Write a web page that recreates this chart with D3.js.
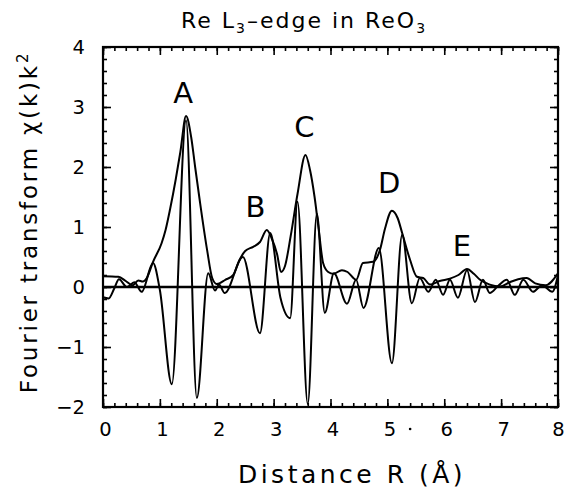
<!doctype html>
<html>
<head>
<style>
  body { margin: 0; background: #fff; }
  text { font-family: "DejaVu Sans", sans-serif; fill: #000; }
</style>
<script src="https://cdn.jsdelivr.net/npm/d3@7"></script>
</head>
<body>
<svg width="566" height="489"></svg>
<script>
// R values and imaginary part of the transform
var rImag = [0.00, 0.10, 0.20, 0.28, 0.42, 0.55, 0.68, 0.88, 1.00, 1.21, 1.46, 1.65, 1.85, 1.97, 2.04, 2.14,
             2.46, 2.76, 2.94, 3.12, 3.29, 3.42, 3.60, 3.76, 3.90, 4.06, 4.29, 4.45, 4.58, 4.85, 5.08, 5.26,
             5.43, 5.57, 5.72, 5.85, 5.98, 6.10, 6.24, 6.40, 6.54, 6.68, 6.80, 6.95, 7.10, 7.24, 7.39, 7.56,
             7.72, 7.90, 8.00];
var imag = [-0.17, -0.19, -0.02, 0.13, 0.00, 0.08, -0.08, 0.40, -0.05, -1.62, 2.78, -1.85, 0.23, -0.06, 0.04, -0.10,
            0.50, -0.77, 0.90, -0.18, -0.52, 1.42, -1.95, 1.22, -0.43, 0.23, -0.28, 0.12, -0.35, 0.65, -1.27, 0.87,
            -0.27, 0.15, -0.08, 0.12, -0.13, 0.12, -0.18, 0.28, -0.25, 0.12, -0.10, 0.02, 0.12, -0.13, 0.12, -0.08,
            0.03, -0.08, 0.20];

// R values and magnitude (envelope)
var rMag = [0.00, 0.27, 0.40, 0.52, 0.62, 0.70, 0.77, 0.88, 1.03, 1.10, 1.18, 1.28, 1.36, 1.46, 1.55, 1.62,
            1.70, 1.83, 1.92, 2.00, 2.15, 2.29, 2.40, 2.50, 2.64, 2.76, 2.88, 2.97, 3.06, 3.13, 3.20, 3.30,
            3.42, 3.56, 3.64, 3.72, 3.80, 3.87, 3.96, 4.05, 4.20, 4.30, 4.45, 4.57, 4.75, 4.87, 4.96, 5.08,
            5.18, 5.26, 5.40, 5.52, 5.63, 5.75, 5.92, 6.10, 6.25, 6.40, 6.52, 6.63, 6.80, 6.98, 7.15, 7.30,
            7.45, 7.60, 7.78, 8.00];
var mag = [0.18, 0.17, 0.10, 0.03, 0.11, 0.09, 0.15, 0.42, 0.73, 0.95, 1.30, 1.80, 2.25, 2.85, 2.50, 2.00,
           1.45, 0.62, 0.15, 0.05, 0.12, 0.20, 0.45, 0.60, 0.67, 0.75, 0.95, 0.80, 0.55, 0.25, 0.35, 0.85,
           1.55, 2.20, 1.95, 1.50, 0.90, 0.40, 0.25, 0.22, 0.28, 0.25, 0.12, 0.40, 0.42, 0.62, 0.98, 1.27,
           1.15, 0.90, 0.45, 0.17, 0.15, 0.04, 0.10, 0.14, 0.20, 0.30, 0.22, 0.12, 0.04, 0.01, 0.08, 0.13,
           0.15, 0.06, 0.03, 0.23];

var peakNames = ["A", "B", "C", "D", "E"];
var peakR = [1.41, 2.68, 3.54, 5.03, 6.31];
var peakV = [3.07, 1.17, 2.50, 1.57, 0.52];

var xTicks = [0, 1, 2, 3, 4, 5, 6, 7, 8];
var yTicks = [-2, -1, 0, 1, 2, 3, 4];

var svg = d3.select("svg");
var mLeft = 103, mRight = 558, mTop = 47, mBottom = 407;

var x = d3.scaleLinear().domain([0, 8]).range([mLeft, mRight]);
var y = d3.scaleLinear().domain([-2, 4]).range([mBottom, mTop]);

var minorX = d3.range(0, 8.001, 0.2).map(function(d) { return +d.toFixed(1); });
var minorY = d3.range(-2, 4.001, 0.2).map(function(d) { return +d.toFixed(1); });

function styleAxis(g) {
    g.select(".domain").remove();
    g.selectAll("line").attr("stroke", "#000").attr("stroke-width", 1.6);
}

// minor ticks, all four sides
svg.append("g").attr("transform", "translate(0," + mBottom + ")")
   .call(d3.axisBottom(x).tickValues(minorX).tickSize(-4).tickFormat("")).call(styleAxis);
svg.append("g").attr("transform", "translate(0," + mTop + ")")
   .call(d3.axisTop(x).tickValues(minorX).tickSize(-4).tickFormat("")).call(styleAxis);
svg.append("g").attr("transform", "translate(" + mLeft + ",0)")
   .call(d3.axisLeft(y).tickValues(minorY).tickSize(-4).tickFormat("")).call(styleAxis);
svg.append("g").attr("transform", "translate(" + mRight + ",0)")
   .call(d3.axisRight(y).tickValues(minorY).tickSize(-4).tickFormat("")).call(styleAxis);

// major ticks
svg.append("g").attr("transform", "translate(0," + mTop + ")")
   .call(d3.axisTop(x).tickValues(xTicks).tickSize(-8).tickFormat("")).call(styleAxis);
svg.append("g").attr("transform", "translate(" + mRight + ",0)")
   .call(d3.axisRight(y).tickValues(yTicks).tickSize(-8).tickFormat("")).call(styleAxis);

var xAxis = svg.append("g").attr("transform", "translate(0," + mBottom + ")")
   .call(d3.axisBottom(x).tickValues(xTicks).tickSize(-8).tickPadding(15).tickFormat(d3.format("d")))
   .call(styleAxis);
xAxis.selectAll("text").attr("font-size", 19.5).attr("dx", function(d) { return d === 8 ? 0 : 2; });

var yAxis = svg.append("g").attr("transform", "translate(" + mLeft + ",0)")
   .call(d3.axisLeft(y).tickValues(yTicks).tickSize(-8).tickPadding(18)
   .tickFormat(function(d) { return d < 0 ? "\u2212" + (-d) : d; }))
   .call(styleAxis);
yAxis.selectAll("text").attr("font-size", 19.5);

// frame
svg.append("rect")
   .attr("x", mLeft).attr("y", mTop)
   .attr("width", mRight - mLeft).attr("height", mBottom - mTop)
   .attr("fill", "none").attr("stroke", "#000").attr("stroke-width", 2.2);

// zero line
svg.append("line")
   .attr("x1", x(0)).attr("x2", x(8)).attr("y1", y(0)).attr("y2", y(0))
   .attr("stroke", "#000").attr("stroke-width", 2.4);

var line = d3.line()
    .x(function(d) { return x(d[0]); })
    .y(function(d) { return y(d[1]); })
    .curve(d3.curveMonotoneX);

svg.append("path")
   .datum(d3.zip(rMag, mag))
   .attr("d", line)
   .attr("fill", "none").attr("stroke", "#000").attr("stroke-width", 2);

svg.append("path")
   .datum(d3.zip(rImag, imag))
   .attr("d", line)
   .attr("fill", "none").attr("stroke", "#000").attr("stroke-width", 2);

// peak labels
svg.selectAll(".peak")
   .data(peakNames)
   .enter().append("text")
   .attr("class", "peak")
   .attr("x", function(d, i) { return x(peakR[i]); })
   .attr("y", function(d, i) { return y(peakV[i]); })
   .attr("text-anchor", "middle")
   .attr("font-size", 29)
   .text(function(d) { return d; });

// stray dot after the 5
svg.append("circle")
   .attr("cx", x(5.4)).attr("cy", mBottom + 22).attr("r", 1.3).attr("fill", "#000");

// title
var title = svg.append("text")
   .attr("x", 304).attr("y", 28)
   .attr("text-anchor", "middle")
   .attr("font-size", 22)
   .attr("letter-spacing", 2);
title.append("tspan").text("Re L");
title.append("tspan").attr("font-size", 14).attr("dy", 5).text("3");
title.append("tspan").attr("dy", -5).text("\u2013edge in ReO");
title.append("tspan").attr("font-size", 14).attr("dy", 5).text("3");

// x axis title
svg.append("text")
   .attr("x", 352).attr("y", 483)
   .attr("text-anchor", "middle")
   .attr("font-size", 25)
   .attr("letter-spacing", 3.5)
   .text("Distance R (\u00c5)");

// y axis title
var yt = svg.append("text")
   .attr("transform", "translate(37,222) rotate(-90)")
   .attr("text-anchor", "middle")
   .attr("font-size", 23)
   .attr("letter-spacing", 2.8);
yt.append("tspan").text("Fourier transform \u03c7(k)k");
yt.append("tspan").attr("font-size", 15).attr("dy", -9).text("2");
</script>
</body>
</html>
